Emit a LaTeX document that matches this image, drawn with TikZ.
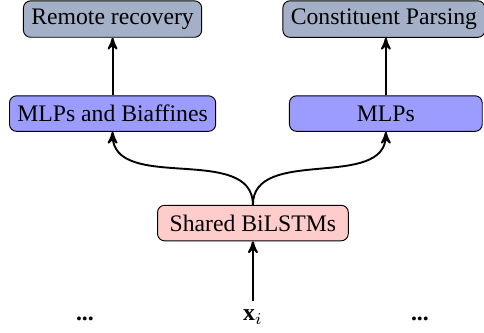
\documentclass[tikz,border=0pt]{standalone}
\usepackage{amsmath}
\usepackage{fontspec}
\setmainfont{Liberation Serif}
\usepackage{tikz}
\usetikzlibrary{arrows}

\definecolor{taskcol}{RGB}{164,176,200}
\definecolor{mlpcol}{RGB}{156,156,255}
\definecolor{lstmcol}{RGB}{255,204,204}

\begin{document}
\begin{tikzpicture}[->,>=stealth',thick]
						\tikzstyle{blk}=[draw, thin, rounded corners=3pt, minimum height=15pt, inner sep=3.33pt]
						\tikzstyle{task}=[blk, fill=taskcol]
						\tikzstyle{mlp}=[blk, fill=mlpcol]
						\tikzstyle{lstm}=[blk, fill=lstmcol]
						\useasboundingbox (0,0) rectangle (7.18,4.94);
						\node[task] 		(RR) at (1.67,4.657)		{Remote recovery};
						\node[task] 		(CP) at (5.695,4.657)		{Constituent Parsing};
						\node[mlp] 		(MB) at (1.67,3.255)		{MLPs and Biaffines};
						\node[mlp, minimum width=2.86cm] 		(ML) at (5.724,3.255)		{MLPs};
						\node[lstm, minimum width=2.83cm] 		(SH) at (3.752,1.631)		{Shared BiLSTMs};
						\node[anchor=base] 		(X) at (3.752,0.185)		{$\mathbf{x}_i$};
						\node[anchor=base] 		(DL) at (1.26,0.185)		{\textbf{...}};
						\node[anchor=base] 		(DR) at (6.23,0.185)		{\textbf{...}};
 				  \path
					 (X) edge (SH)
					 (SH.north) edge[out=90,in=-90] (MB.south)
					 (SH.north) edge[out=90,in=-90] (ML.south)
					 (MB) edge (RR)
					 (ML.north) edge (CP.south -| ML.north);
				\end{tikzpicture}
\end{document}
